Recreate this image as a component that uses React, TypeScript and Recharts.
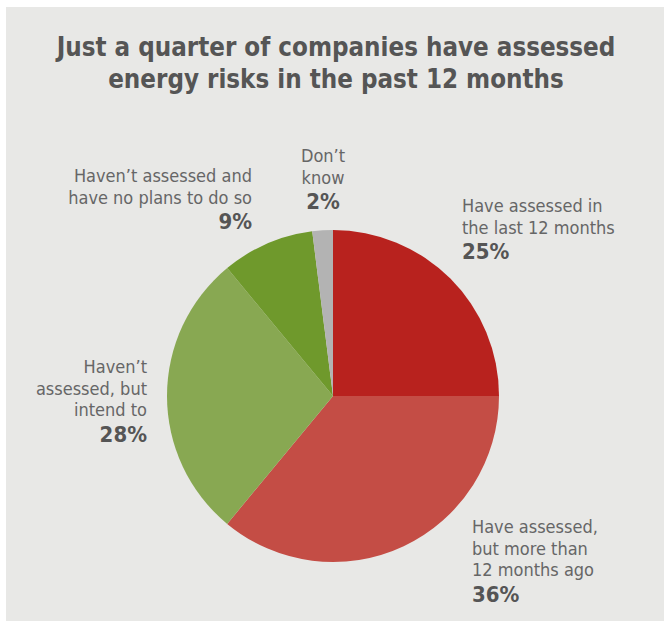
import { Cell, Pie, PieChart } from "recharts";

const categories = [
  ["Have assessed in", "the last 12 months"],
  ["Have assessed,", "but more than", "12 months ago"],
  ["Haven\u2019t", "assessed, but", "intend to"],
  ["Haven\u2019t assessed and", "have no plans to do so"],
  ["Don\u2019t", "know"],
];
const shares = [25, 36, 28, 9, 2];
const colors = ["#b8221e", "#c44d45", "#88a852", "#6f992c", "#b3b3b3"];

// where each label block starts, relative to pie centre (first baseline)
const labelSpots = [
  { dx: 129, dy: -184, anchor: "start" },
  { dx: 139, dy: 137, anchor: "start" },
  { dx: -186, dy: -23, anchor: "end" },
  { dx: -81, dy: -214, anchor: "end" },
  { dx: -10, dy: -234, anchor: "middle" },
];

const FONT = "'DejaVu Sans Condensed', 'DejaVu Sans', sans-serif";

const data = categories.map((lines, i) => ({ name: lines.join(" "), value: shares[i] }));

const renderLabel = (props: any) => {
  const { cx, cy, index } = props;
  const spot = labelSpots[index];
  const lines = categories[index];
  const x = cx + spot.dx;
  const y = cy + spot.dy;
  return (
    <g key={`lbl-${index}`}>
      {lines.map((line, j) => (
        <text
          key={j}
          x={x}
          y={y + j * 21.5}
          textAnchor={spot.anchor}
          fontFamily={FONT}
          fontSize={18}
          fill="#666"
        >
          {line}
        </text>
      ))}
      <text
        x={x}
        y={y + lines.length * 21.5 + 4}
        textAnchor={spot.anchor}
        fontFamily={FONT}
        fontWeight={700}
        fontSize={22}
        fill="#555"
      >
        {shares[index]}%
      </text>
    </g>
  );
};

export default function App() {
  return (
    <div style={{ position: "relative", width: 664, height: 626, background: "#fff" }}>
      <style>{`body{margin:0}`}</style>
      <div
        style={{
          position: "absolute",
          left: 6,
          top: 7,
          width: 658,
          height: 614,
          background: "#e8e8e6",
        }}
      />
      <div
        style={{
          position: "absolute",
          left: 4,
          top: 31,
          width: 664,
          textAlign: "center",
          fontFamily: FONT,
          fontWeight: 700,
          fontSize: 25.7,
          lineHeight: "32px",
          color: "#555",
        }}
      >
        Just a quarter of companies have assessed
        <br />
        energy risks in the past 12 months
      </div>
      <div style={{ position: "absolute", left: 0, top: 0 }}>
        <PieChart width={664} height={626} margin={{ top: 0, right: 0, bottom: 0, left: 0 }}>
          <Pie
            data={data}
            dataKey="value"
            nameKey="name"
            cx={333}
            cy={396}
            outerRadius={166}
            startAngle={90}
            endAngle={-270}
            stroke="none"
            label={renderLabel}
            labelLine={false}
            isAnimationActive={false}
          >
            {data.map((d, i) => (
              <Cell key={d.name} fill={colors[i]} />
            ))}
          </Pie>
        </PieChart>
      </div>
    </div>
  );
}
